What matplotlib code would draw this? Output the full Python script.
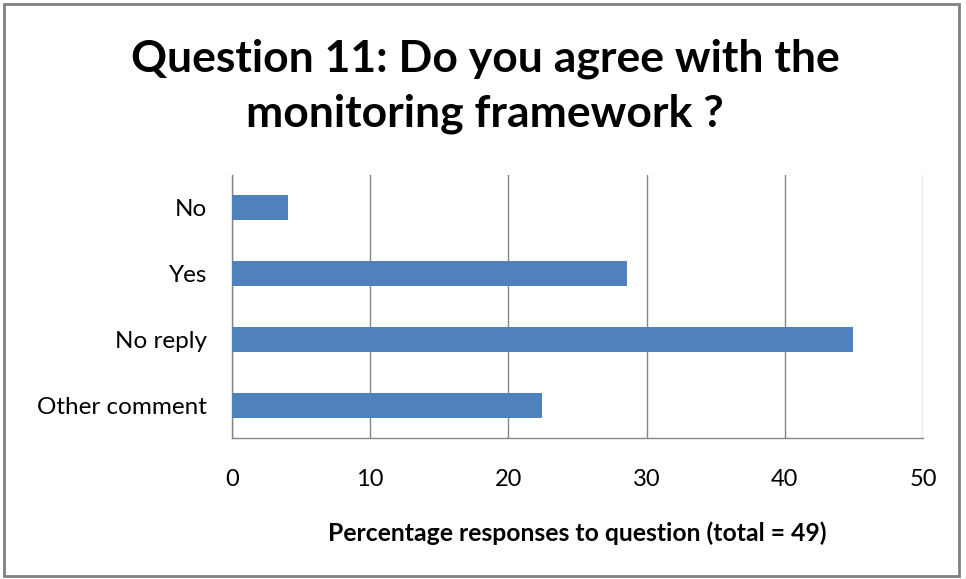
import matplotlib
matplotlib.use("Agg")
import matplotlib.pyplot as plt
from matplotlib.patches import Rectangle

# data (total = 49 responses)
categories = ["No", "Yes", "No reply", "Other comment"]
percentages = [4.08, 28.57, 44.9, 22.45]
xticks = [0, 10, 20, 30, 40, 50]

bar_color = "#4F81BD"
grid_color = "#868686"
font = "Lato"

fig = plt.figure(figsize=(9.66, 5.79), dpi=100)
ax = fig.add_axes([232 / 966, 1 - 438 / 579, 691 / 966, 263 / 579])

pos = list(range(len(categories)))
ax.barh(pos, percentages, height=0.38, color=bar_color, zorder=3)
ax.set_ylim(len(categories) - 0.5, -0.5)
ax.set_xlim(0, 50)
ax.set_yticks(pos)
ax.set_yticklabels(categories, fontsize=17.5, family=font)
ax.set_xticks(xticks)
ax.set_xticklabels([str(t) for t in xticks], fontsize=17, family=font)
ax.tick_params(axis="both", length=0)
ax.tick_params(axis="y", pad=18)
ax.tick_params(axis="x", pad=22)

ax.grid(axis="x", color=grid_color, linewidth=1, zorder=0)
for side in ["top", "right"]:
    ax.spines[side].set_visible(False)
for side in ["left", "bottom"]:
    ax.spines[side].set_color(grid_color)
    ax.spines[side].set_linewidth(1)

ax.set_xlabel("Percentage responses to question (total = 49)", fontsize=17.8,
              fontweight="bold", family=font, labelpad=23)

fig.text(0.502, 1 - 86 / 579, "Question 11: Do you agree with the\nmonitoring framework ?",
         ha="center", va="center", fontsize=32, fontweight="bold", family=font,
         linespacing=1.45)

# outer chart border
fig.patches.append(Rectangle((4 / 966, 3 / 579), 955 / 966, 572 / 579,
                             transform=fig.transFigure, fill=False,
                             edgecolor="#808080", linewidth=2))

fig.savefig("out.png", dpi=100)
